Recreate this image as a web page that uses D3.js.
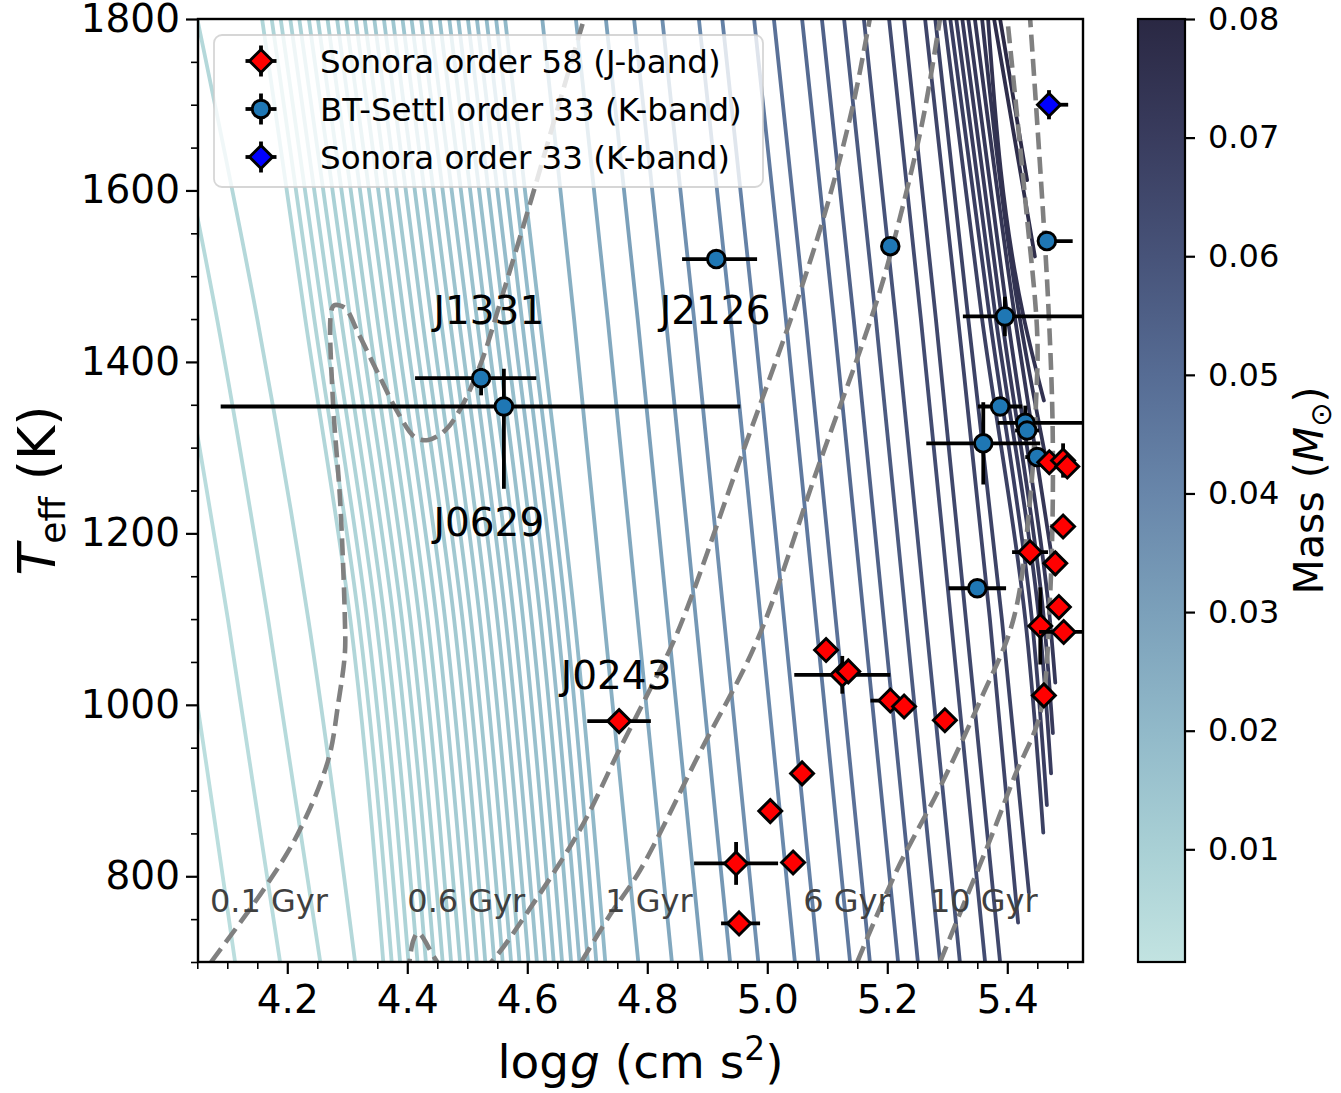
<!DOCTYPE html>
<html><head><meta charset="utf-8">
<script src="https://cdn.jsdelivr.net/npm/d3@7"></script>
<style>body{margin:0;background:#fff}svg{display:block}text{font-family:"DejaVu Sans",sans-serif}</style>
</head><body><svg id="c" width="1341" height="1093"></svg>
<script>
// ---------------- DATA ----------------
const xTicks = [4.2, 4.4, 4.6, 4.8, 5.0, 5.2, 5.4];
const xMinor = [4.05,4.1,4.15,4.25,4.3,4.35,4.45,4.5,4.55,4.65,4.7,4.75,4.85,4.9,4.95,5.05,5.1,5.15,5.25,5.3,5.35,5.45,5.5];
const yTicks = [800, 1000, 1200, 1400, 1600, 1800];
const yMinor = [700,750,850,900,950,1050,1100,1150,1250,1300,1350,1450,1500,1550,1650,1700,1750];
const cbTicks = [0.01, 0.02, 0.03, 0.04, 0.05, 0.06, 0.07, 0.08];
const cmapStops = [0.0005, 0.01, 0.02, 0.03, 0.04, 0.05, 0.06, 0.07, 0.08];
const cmapColors = ["#c2e3e1","#a9d0d5","#91b9c9","#7ba0ba","#6886aa","#566c94","#475379","#393c5e","#2a2843"];

// isomass tracks: mass and log g read at Teff = 1800, 1450, 1100, 700 K (null = not reached), plus end point
const trackTeffLevels = [1800, 1450, 1100, 700];
const trackMass = [0.003,0.004,0.005,0.006,
 0.0070,0.0075,0.0080,0.0085,0.0090,0.0095,0.0100,0.0105,0.0110,0.0115,0.0120,0.0125,0.0130,0.0135,0.0140,0.0145,0.0150,0.0155,0.0160,0.0165,0.0170,0.0175,0.0180,0.0185,0.0190,0.0195,0.0200,
 0.024,0.027,0.030,0.033,0.036,0.039,0.042,0.045,0.048,0.051,0.054,0.057,0.060,0.063,0.065,
 0.066,0.067,0.068,0.069,0.070,0.071,0.072,0.073,0.074,0.075,0.077,0.079];
const logg1800 = [3.843,3.916,3.983,4.050,
 4.158,4.174,4.189,4.205,4.220,4.236,4.251,4.267,4.283,4.298,4.314,4.329,4.345,4.361,4.376,4.392,4.407,4.423,4.438,4.454,4.470,4.485,4.501,4.516,4.532,4.548,4.563,
 4.625,4.681,4.731,4.778,4.825,4.886,4.925,4.978,5.011,5.058,5.091,5.128,5.161,5.203,5.228,
 5.263,5.280,5.295,5.305,5.315,5.325,5.335,5.346,5.358,5.368,5.378,5.388];
const logg1450 = [3.943,4.016,4.083,4.150,
 4.230,4.245,4.260,4.275,4.290,4.305,4.320,4.335,4.350,4.365,4.380,4.395,4.410,4.425,4.440,4.456,4.471,4.486,4.501,4.516,4.531,4.546,4.561,4.576,4.591,4.606,4.621,
 4.678,4.734,4.784,4.831,4.878,4.939,4.978,5.031,5.064,5.111,5.144,5.181,5.214,5.256,5.281,
 5.318,5.335,5.358,5.371,5.381,5.391,5.401,5.413,5.421,5.428,null,null];
const logg1100 = [4.028,4.101,4.168,4.235,
 4.305,4.319,4.333,4.348,4.362,4.377,4.391,4.405,4.420,4.434,4.449,4.463,4.478,4.492,4.506,4.521,4.535,4.550,4.564,4.578,4.593,4.607,4.622,4.636,4.650,4.665,4.679,
 4.728,4.784,4.834,4.881,4.928,4.989,5.028,5.081,5.114,5.161,5.194,5.231,5.264,5.306,5.331,
 5.371,5.391,5.430,5.441,5.453,5.461,5.471,null,null,null,null,null];
const logg700 = [4.113,4.188,4.255,4.313,
 4.360,4.374,4.388,4.402,4.417,4.431,4.445,4.459,4.473,4.488,4.502,4.516,4.530,4.545,4.559,4.573,4.587,4.602,4.616,4.630,4.644,4.658,4.673,4.687,4.701,4.715,4.730,
 4.785,4.841,4.891,4.938,4.985,5.046,5.085,5.138,5.171,5.218,5.251,5.288,5.321,5.363,5.388,
 null,null,null,null,null,null,null,null,null,null,null,null];
const trackEndTeff = [null,null,null,null,
 null,null,null,null,null,null,null,null,null,null,null,null,null,null,null,null,null,null,null,null,null,null,null,null,null,null,null,
 null,null,null,null,null,null,null,null,null,null,null,null,null,null,null,
 746,781,851,883,920,967,1026,1169,1274,1355,1523,1612];
const trackEndLogg = [null,null,null,null,
 null,null,null,null,null,null,null,null,null,null,null,null,null,null,null,null,null,null,null,null,null,null,null,null,null,null,null,
 null,null,null,null,null,null,null,null,null,null,null,null,null,null,null,
 5.418,5.436,5.460,5.466,5.473,5.476,5.480,5.475,5.468,5.461,5.446,5.433];

// isochrones (log g, Teff)
const iso01Logg = [4.073,4.163,4.218,4.268,4.285,4.296,4.296,4.288,4.276,4.273,4.278,4.296,4.318,4.351,4.385,4.413,4.435,4.463,4.490,4.523,4.556,4.606,4.655,4.695];
const iso01Teff = [700,787,850,935,1002,1060,1099,1239,1355,1458,1466,1463,1434,1387,1340,1312,1309,1320,1347,1399,1472,1588,1706,1801];
const iso06Logg = [4.401,4.410,4.418,4.450,4.488,4.540,4.606,4.690,4.751,4.798,4.850,4.950,5.050,5.100,5.143,5.171];
const iso06Teff = [684,725,734,700,667,700,764,857,944,1009,1084,1277,1472,1583,1700,1801];
const iso1Logg = [4.690,4.738,4.788,4.888,4.983,5.083,5.183,5.221,5.260,5.288];
const iso1Teff = [700,755,807,945,1075,1274,1472,1568,1685,1801];
const iso6Logg = [5.150,5.216,5.288,5.355,5.410,5.438,5.448,5.450,5.430,5.400];
const iso6Teff = [700,807,904,1005,1099,1239,1355,1431,1589,1801];
const iso10Logg = [5.288,5.330,5.371,5.413,5.455,5.471,5.476,5.468,5.438];
const iso10Teff = [700,772,842,918,990,1122,1297,1472,1801];
const isoLabelText = ["0.1 Gyr","0.6 Gyr","1 Gyr","6 Gyr","10 Gyr"];
const isoLabelLogg = [4.071,4.400,4.730,5.060,5.271];
const isoLabelTeff = [758,758,758,758,758];

// Sonora order 58 (J-band)
const sonJLogg = [4.753,5.098,5.125,5.135,5.205,5.228,5.296,5.058,5.005,4.948,5.043,4.953,5.461,5.455,5.494,5.470,5.493,5.500,5.493,5.438,5.480,5.486];
const sonJTeff = [981,1064,1035,1039,1005,998,982,920,876,815,816,745,1011,1092,1085,1283,1285,1278,1208,1178,1165,1114];
const sonJLoggErrLo = [0.053,0,0.080,0,0.033,0,0,0,0,0.070,0,0.030,0,0,0.041,0,0,0,0,0.030,0,0];
const sonJLoggErrHi = [0.053,0,0.080,0,0.033,0,0,0,0,0.070,0,0.035,0,0,0.041,0,0,0,0,0.030,0,0];
const sonJTeffErr = [0,0,22,0,0,0,0,0,0,25,0,0,0,45,0,0,20,0,0,0,14,0];
// BT-Settl order 33 (K-band)
const btLogg = [4.915,5.205,5.466,5.396,4.523,4.561,5.388,5.430,5.433,5.360,5.450,5.350];
const btTeff = [1520,1535,1541,1453,1381,1348,1348,1329,1320,1305,1289,1136];
const btLoggErrLo = [0.057,0,0.015,0.070,0.110,0.472,0.037,0.046,0.020,0.095,0.020,0.048];
const btLoggErrHi = [0.068,0,0.043,0.200,0.092,0.394,0.037,0.150,0.020,0.095,0.020,0.048];
const btTeffErrLo = [0,0,0,23,20,96,0,5,0,48,0,0];
const btTeffErrHi = [0,0,0,23,12,44,0,20,0,48,0,0];
// Sonora order 33 (K-band)
const sonKLogg = [5.4695];
const sonKTeff = [1700];
const sonKLoggErrLo = [0.015];
const sonKLoggErrHi = [0.032];
const sonKTeffErr = [17];

const objNames = ["J1331","J2126","J0629","J0243"];
const objLabelLogg = [4.536,4.913,4.536,4.748];
const objLabelTeff = [1444,1444,1197,1019];
const legendLabels = ["Sonora order 58 (J-band)","BT-Settl order 33 (K-band)","Sonora order 33 (K-band)"];

// ---------------- DRAW ----------------
const L = 198, R = 1083, T = 19, B = 962;
const svg = d3.select("#c");
svg.append("rect").attr("width",1341).attr("height",1093).attr("fill","#fff");
const x = d3.scaleLinear().domain([4.0512, 5.5262]).range([L, R]);
const y = d3.scaleLinear().domain([700, 1800]).range([B, T]);
const color = d3.scaleLinear().domain(cmapStops).range(cmapColors).interpolate(d3.interpolateRgb);

const defs = svg.append("defs");
defs.append("clipPath").attr("id","clip").append("rect").attr("x",L).attr("y",T).attr("width",R-L).attr("height",B-T);

const plot = svg.append("g").attr("clip-path","url(#clip)");
const trackLine = d3.line().x(d=>x(d[0])).y(d=>y(d[1])).curve(d3.curveMonotoneY);
const levelArrays = [logg1800, logg1450, logg1100, logg700];
trackMass.forEach((m,i)=>{
  const pts = [];
  levelArrays.forEach((arr,k)=>{ if(arr[i]!==null) pts.push([arr[i], trackTeffLevels[k]]); });
  if(trackEndTeff[i]!==null) pts.push([trackEndLogg[i], trackEndTeff[i]]);
  plot.append("path").attr("d", trackLine(pts)).attr("fill","none")
    .attr("stroke", color(m)).attr("stroke-width",3.8).attr("stroke-linecap","round");
});

const isoLine = d3.line().x(d=>x(d[0])).y(d=>y(d[1])).curve(d3.curveCatmullRom.alpha(0.5));
[[iso01Logg,iso01Teff],[iso06Logg,iso06Teff],[iso1Logg,iso1Teff],[iso6Logg,iso6Teff],[iso10Logg,iso10Teff]].forEach(([g,t])=>{
  plot.append("path").attr("d", isoLine(g.map((v,i)=>[v,t[i]]))).attr("fill","none")
    .attr("stroke","#808080").attr("stroke-width",4.6).attr("stroke-dasharray","17,7.5");
});

isoLabelText.forEach((s,i)=>{
  plot.append("text").attr("x",x(isoLabelLogg[i])).attr("y",y(isoLabelTeff[i]))
    .attr("font-size",32).attr("fill","#3f3f3f").text(s);
});

// markers
const diamondPath = s => `M0,${-s}L${s},0L0,${s}L${-s},0Z`;
const EW = 3.8, MW = 2.9;
function errbars(g, v, t, glo, ghi, tlo, thi){
  if(glo>0 || ghi>0) g.append("line").attr("x1",x(v-glo)).attr("x2",x(v+ghi)).attr("y1",y(t)).attr("y2",y(t)).attr("stroke","#000").attr("stroke-width",EW);
  if(tlo>0 || thi>0) g.append("line").attr("x1",x(v)).attr("x2",x(v)).attr("y1",y(t-tlo)).attr("y2",y(t+thi)).attr("stroke","#000").attr("stroke-width",EW);
}
const pts = svg.append("g").attr("clip-path","url(#clip)");
const gBT = pts.append("g");
btLogg.forEach((v,i)=>{
  errbars(gBT,v,btTeff[i],btLoggErrLo[i],btLoggErrHi[i],btTeffErrLo[i],btTeffErrHi[i]);
  gBT.append("circle").attr("cx",x(v)).attr("cy",y(btTeff[i])).attr("r",8.8).attr("fill","#1f77b4").attr("stroke","#000").attr("stroke-width",MW);
});
const gJ = pts.append("g");
sonJLogg.forEach((v,i)=>{
  errbars(gJ,v,sonJTeff[i],sonJLoggErrLo[i],sonJLoggErrHi[i],sonJTeffErr[i],sonJTeffErr[i]);
  gJ.append("path").attr("d",diamondPath(11.5)).attr("transform",`translate(${x(v)},${y(sonJTeff[i])})`).attr("fill","#ff0000").attr("stroke","#000").attr("stroke-width",MW);
});
const gK = pts.append("g");
sonKLogg.forEach((v,i)=>{
  errbars(gK,v,sonKTeff[i],sonKLoggErrLo[i],sonKLoggErrHi[i],sonKTeffErr[i],sonKTeffErr[i]);
  gK.append("path").attr("d",diamondPath(11.5)).attr("transform",`translate(${x(v)},${y(sonKTeff[i])})`).attr("fill","#0000ff").attr("stroke","#000").attr("stroke-width",MW);
});

objNames.forEach((s,i)=>{
  svg.append("text").attr("x",x(objLabelLogg[i])).attr("y",y(objLabelTeff[i])).attr("text-anchor","middle")
    .attr("font-size",39).attr("fill","#000").text(s);
});

// frame
svg.append("rect").attr("x",L).attr("y",T).attr("width",R-L).attr("height",B-T).attr("fill","none").attr("stroke","#000").attr("stroke-width",2.4);

// axes
const xAx = svg.append("g").attr("transform",`translate(0,${B})`)
  .call(d3.axisBottom(x).tickValues(xTicks).tickSize(12).tickPadding(11).tickFormat(d3.format(".1f")));
const xAxMin = svg.append("g").attr("transform",`translate(0,${B})`)
  .call(d3.axisBottom(x).tickValues(xMinor).tickSize(7).tickFormat(""));
const yAx = svg.append("g").attr("transform",`translate(${L},0)`)
  .call(d3.axisLeft(y).tickValues(yTicks).tickSize(12).tickPadding(6).tickFormat(d3.format("d")));
const yAxMin = svg.append("g").attr("transform",`translate(${L},0)`)
  .call(d3.axisLeft(y).tickValues(yMinor).tickSize(7).tickFormat(""));
[xAx,xAxMin,yAx,yAxMin].forEach(g=>{
  g.select(".domain").remove();
  g.selectAll("text").attr("font-size",39).attr("font-family","DejaVu Sans").attr("fill","#000");
});
[xAx,yAx].forEach(g=>g.selectAll("line").attr("stroke","#000").attr("stroke-width",2.2));
[xAxMin,yAxMin].forEach(g=>g.selectAll("line").attr("stroke","#000").attr("stroke-width",1.6));

// axis labels
const xl = svg.append("text").attr("x",(L+R)/2).attr("y",1078).attr("text-anchor","middle").attr("font-size",47);
xl.append("tspan").text("log");
xl.append("tspan").attr("dx",1).attr("font-style","italic").text("g");
xl.append("tspan").text(" (cm s");
xl.append("tspan").attr("dy",-18).attr("font-size",33).text("2");
xl.append("tspan").attr("dy",18).text(")");

const yl = svg.append("text").attr("transform",`translate(55,${(T+B)/2}) rotate(-90)`).attr("text-anchor","middle").attr("font-size",52);
yl.append("tspan").attr("font-style","italic").text("T");
yl.append("tspan").attr("dy",10).attr("font-size",36).text("eff");
yl.append("tspan").attr("dy",-10).text(" (K)");

// colorbar
const cbL = 1138, cbW = 47;
const cy = d3.scaleLinear().domain([0.0005, 0.08]).range([B, T]);
const grad = defs.append("linearGradient").attr("id","cb").attr("x1",0).attr("y1",1).attr("x2",0).attr("y2",0);
cmapStops.forEach((s,i)=>grad.append("stop").attr("offset",(s-0.0005)/(0.08-0.0005)).attr("stop-color",cmapColors[i]));
svg.append("rect").attr("x",cbL).attr("y",T).attr("width",cbW).attr("height",B-T).attr("fill","url(#cb)").attr("stroke","#000").attr("stroke-width",2.2);
const cbAx = svg.append("g").attr("transform",`translate(${cbL+cbW},0)`)
  .call(d3.axisRight(cy).tickValues(cbTicks).tickSize(10).tickPadding(13).tickFormat(d3.format(".2f")));
cbAx.select(".domain").remove();
cbAx.selectAll("line").attr("stroke","#000").attr("stroke-width",2.2);
cbAx.selectAll("text").attr("font-size",32).attr("font-family","DejaVu Sans").attr("fill","#000");
const cl = svg.append("text").attr("transform",`translate(1323,${(T+B)/2}) rotate(-90)`).attr("text-anchor","middle").attr("font-size",41);
cl.append("tspan").text("Mass (");
cl.append("tspan").attr("font-style","italic").text("M");
cl.append("tspan").attr("dy",8).attr("font-size",29).text("\u2299");
cl.append("tspan").attr("dy",-8).text(")");

// legend
const lg = svg.append("g");
lg.append("rect").attr("x",214).attr("y",35).attr("width",549).attr("height",152).attr("rx",8)
  .attr("fill","#fff").attr("fill-opacity",0.8).attr("stroke","#cccccc").attr("stroke-opacity",0.8).attr("stroke-width",1.8);
const legFill = ["#ff0000","#1f77b4","#0000ff"];
const legShape = ["d","o","d"];
legendLabels.forEach((s,i)=>{
  const cy0 = 61 + i*48, cx0 = 261;
  lg.append("line").attr("x1",cx0-15.5).attr("x2",cx0+15.5).attr("y1",cy0).attr("y2",cy0).attr("stroke","#000").attr("stroke-width",EW);
  lg.append("line").attr("x1",cx0).attr("x2",cx0).attr("y1",cy0-15.5).attr("y2",cy0+15.5).attr("stroke","#000").attr("stroke-width",EW);
  if(legShape[i]==="o") lg.append("circle").attr("cx",cx0).attr("cy",cy0).attr("r",8.8).attr("fill",legFill[i]).attr("stroke","#000").attr("stroke-width",MW);
  else lg.append("path").attr("d",diamondPath(11.5)).attr("transform",`translate(${cx0},${cy0})`).attr("fill",legFill[i]).attr("stroke","#000").attr("stroke-width",MW);
  lg.append("text").attr("x",320).attr("y",cy0).attr("dy","0.36em").attr("font-size",32.5).attr("fill","#000").text(s);
});
</script></body></html>
